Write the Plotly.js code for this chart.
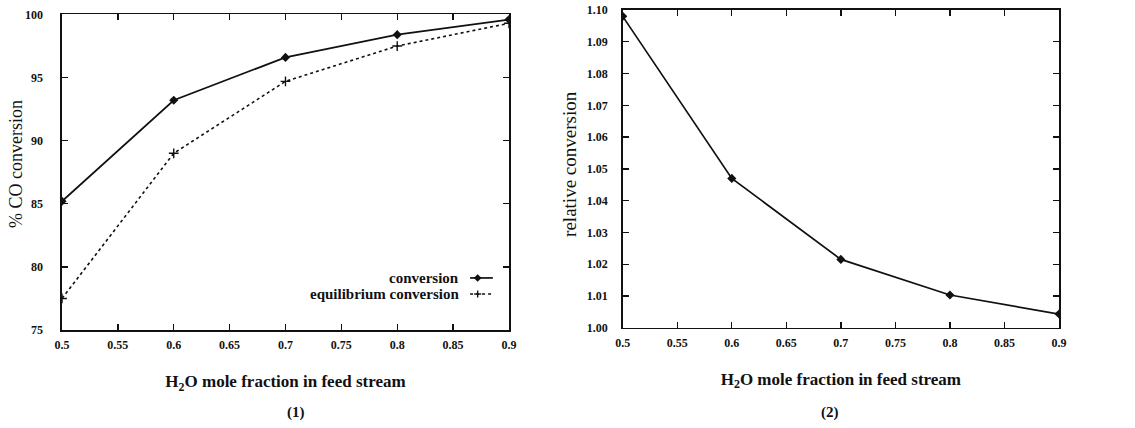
<!DOCTYPE html>
<html>
<head>
<meta charset="utf-8">
<script src="https://cdn.plot.ly/plotly-3.0.1.min.js"></script>
<style>html,body{margin:0;padding:0;background:#fff;}#chart{width:1135px;height:428px;}</style>
</head>
<body>
<div id="chart"></div>
<script>
// ---- data ----
const h2oFraction = [0.5, 0.6, 0.7, 0.8, 0.9];
const conversion = [85.2, 93.2, 96.6, 98.4, 99.6];
const equilibriumConversion = [77.5, 89.0, 94.7, 97.5, 99.3];
const relativeConversion = [1.098, 1.047, 1.0215, 1.0103, 1.0043];

const xTickVals = [0.5, 0.55, 0.6, 0.65, 0.7, 0.75, 0.8, 0.85, 0.9];
const xTickText = ['0.5', '0.55', '0.6', '0.65', '0.7', '0.75', '0.8', '0.85', '0.9'];
const y1TickVals = [75, 80, 85, 90, 95, 100];
const y1TickText = ['75', '80', '85', '90', '95', '100'];
const y2TickVals = [1.00, 1.01, 1.02, 1.03, 1.04, 1.05, 1.06, 1.07, 1.08, 1.09, 1.10];
const y2TickText = ['1.00', '1.01', '1.02', '1.03', '1.04', '1.05', '1.06', '1.07', '1.08', '1.09', '1.10'];

const FONT = 'Liberation Serif, DejaVu Serif, serif';
const INK = '#111';

const traces = [
  {x: h2oFraction, y: conversion, xaxis: 'x', yaxis: 'y', mode: 'lines+markers', name: 'conversion',
   line: {color: INK, width: 1.7}, marker: {symbol: 'diamond', size: 7, color: INK}},
  {x: h2oFraction, y: equilibriumConversion, xaxis: 'x', yaxis: 'y', mode: 'lines+markers', name: 'equilibrium conversion',
   line: {color: INK, width: 1.6, dash: 'dot'}, marker: {symbol: 'cross-thin', size: 7, color: INK, line: {width: 1.4, color: INK}}},
  {x: h2oFraction, y: relativeConversion, xaxis: 'x2', yaxis: 'y2', mode: 'lines+markers', name: 'relative conversion',
   line: {color: INK, width: 1.7}, marker: {symbol: 'diamond', size: 7, color: INK}}
];

function xAxis(domain, anchor) {
  return {
    domain: domain, anchor: anchor, range: [0.5, 0.9], tickvals: xTickVals, ticktext: xTickText,
    ticks: 'inside', ticklen: 6, tickwidth: 1.3, tickcolor: INK, mirror: 'ticks', showline: true,
    linecolor: INK, linewidth: 1.6, showgrid: false, zeroline: false, ticklabelstandoff: 3,
    tickfont: {family: FONT, size: 12, color: INK, weight: 'bold'},
    title: {text: 'H<sub>2</sub>O mole fraction in feed stream', standoff: 24,
            font: {family: FONT, size: 17, color: INK, weight: 'bold'}}
  };
}
function yAxis(domain, anchor, range, vals, text, standoff) {
  return {
    domain: domain, anchor: anchor, range: range, tickvals: vals, ticktext: text,
    ticks: 'inside', ticklen: 6, tickwidth: 1.3, tickcolor: INK, mirror: 'ticks', showline: true,
    linecolor: INK, linewidth: 1.6, showgrid: false, zeroline: false, ticklabelstandoff: standoff,
    tickfont: {family: FONT, size: 12, color: INK, weight: 'bold'}
  };
}

const layout = {
  width: 1135, height: 428,
  margin: {l: 62, r: 76, t: 10, b: 98},
  paper_bgcolor: '#fff', plot_bgcolor: '#fff',
  showlegend: false,
  xaxis: xAxis([0, 0.4483], 'y'),
  yaxis: yAxis([0, 0.986], 'x', [75, 100], y1TickVals, y1TickText, 15),
  xaxis2: xAxis([0.5624, 1], 'y2'),
  yaxis2: yAxis([0.0072, 1], 'x2', [1.0, 1.1], y2TickVals, y2TickText, 11),
  annotations: [
    {text: '% CO conversion', xref: 'paper', yref: 'paper', x: -0.0461, y: 0.519, textangle: -90,
     xanchor: 'center', yanchor: 'middle', showarrow: false, font: {family: FONT, size: 18, color: INK}},
    {text: 'relative conversion', xref: 'paper', yref: 'paper', x: 0.5095, y: 0.519, textangle: -90,
     xanchor: 'center', yanchor: 'middle', showarrow: false, font: {family: FONT, size: 19, color: INK}},
    {text: '(1)', xref: 'paper', yref: 'paper', x: 0.2241, y: -0.257, yanchor: 'middle', showarrow: false,
     font: {family: FONT, size: 15, color: INK, weight: 'bold'}},
    {text: '(2)', xref: 'paper', yref: 'paper', x: 0.7812, y: -0.257, yanchor: 'middle', showarrow: false,
     font: {family: FONT, size: 15, color: INK, weight: 'bold'}},
    {text: 'conversion', xref: 'x domain', yref: 'y domain', x: 0.892, y: 0.165, xanchor: 'right', yanchor: 'middle',
     showarrow: false, font: {family: FONT, size: 15, color: INK, weight: 'bold'}},
    {text: 'equilibrium conversion', xref: 'x domain', yref: 'y domain', x: 0.892, y: 0.114, xanchor: 'right', yanchor: 'middle',
     showarrow: false, font: {family: FONT, size: 15, color: INK, weight: 'bold'}}
  ],
  shapes: [
    {type: 'line', xref: 'x domain', yref: 'y domain', x0: 0.913, x1: 0.964, y0: 0.165, y1: 0.165,
     line: {color: INK, width: 1.7}},
    {type: 'line', xref: 'x domain', yref: 'y domain', x0: 0.913, x1: 0.964, y0: 0.114, y1: 0.114,
     line: {color: INK, width: 1.6, dash: 'dot'}},
    {type: 'path', xref: 'x domain', yref: 'y domain',
     path: 'M 0.930 0.176 L 0.938 0.165 L 0.930 0.154 L 0.922 0.165 Z', fillcolor: INK, line: {color: INK, width: 0.5}},
    {type: 'line', xref: 'x domain', yref: 'y domain', x0: 0.922, x1: 0.938, y0: 0.114, y1: 0.114, line: {color: INK, width: 1.4}},
    {type: 'line', xref: 'x domain', yref: 'y domain', x0: 0.930, x1: 0.930, y0: 0.103, y1: 0.125, line: {color: INK, width: 1.4}}
  ]
};

Plotly.newPlot('chart', traces, layout, {displayModeBar: false, staticPlot: true});
</script>
</body>
</html>
